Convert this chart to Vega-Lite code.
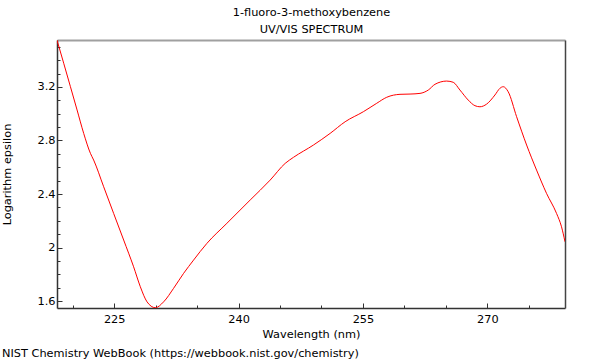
{
  "$schema": "https://vega.github.io/schema/vega-lite/v6.json",
  "width": 508,
  "height": 268,
  "autosize": {"type": "none"},
  "padding": {"left": 57, "top": 40, "right": 35, "bottom": 52},
  "background": "white",
  "title": {
    "text": "NIST Chemistry WebBook (https://webbook.nist.gov/chemistry)",
    "orient": "bottom",
    "anchor": "start",
    "frame": "bounds",
    "font": "DejaVu Sans",
    "fontSize": 11.33,
    "fontWeight": "normal",
    "color": "black",
    "offset": 8
  },
  "config": {
    "view": {"stroke": null},
    "axis": {
      "labelFont": "DejaVu Sans",
      "titleFont": "DejaVu Sans",
      "labelFontSize": 11.33,
      "titleFontSize": 11.33,
      "titleFontWeight": "normal",
      "labelColor": "black",
      "titleColor": "black",
      "grid": false
    }
  },
  "data": {
    "values": [
      {"wavelength": 218.1, "logeps": 3.55},
      {"wavelength": 218.91, "logeps": 3.377},
      {"wavelength": 219.72, "logeps": 3.202},
      {"wavelength": 220.52, "logeps": 3.028},
      {"wavelength": 221.32, "logeps": 2.853},
      {"wavelength": 222.13, "logeps": 2.704},
      {"wavelength": 222.52, "logeps": 2.654},
      {"wavelength": 223.73, "logeps": 2.454},
      {"wavelength": 224.93, "logeps": 2.255},
      {"wavelength": 226.14, "logeps": 2.056},
      {"wavelength": 227.34, "logeps": 1.856},
      {"wavelength": 228.15, "logeps": 1.707},
      {"wavelength": 228.96, "logeps": 1.594},
      {"wavelength": 229.96, "logeps": 1.55},
      {"wavelength": 230.96, "logeps": 1.594},
      {"wavelength": 232.16, "logeps": 1.695},
      {"wavelength": 233.37, "logeps": 1.807},
      {"wavelength": 234.57, "logeps": 1.906},
      {"wavelength": 236.18, "logeps": 2.031},
      {"wavelength": 238.59, "logeps": 2.181},
      {"wavelength": 241.4, "logeps": 2.355},
      {"wavelength": 243.81, "logeps": 2.504},
      {"wavelength": 245.62, "logeps": 2.629},
      {"wavelength": 246.62, "logeps": 2.674},
      {"wavelength": 249.03, "logeps": 2.766},
      {"wavelength": 251.04, "logeps": 2.853},
      {"wavelength": 252.85, "logeps": 2.94},
      {"wavelength": 255.05, "logeps": 3.015},
      {"wavelength": 256.66, "logeps": 3.078},
      {"wavelength": 257.87, "logeps": 3.123},
      {"wavelength": 259.47, "logeps": 3.145},
      {"wavelength": 260.68, "logeps": 3.147},
      {"wavelength": 261.88, "logeps": 3.152},
      {"wavelength": 262.88, "logeps": 3.177},
      {"wavelength": 263.69, "logeps": 3.22},
      {"wavelength": 265.1, "logeps": 3.244},
      {"wavelength": 265.89, "logeps": 3.235},
      {"wavelength": 266.7, "logeps": 3.177},
      {"wavelength": 267.7, "logeps": 3.102},
      {"wavelength": 268.51, "logeps": 3.06},
      {"wavelength": 269.11, "logeps": 3.052},
      {"wavelength": 269.92, "logeps": 3.072},
      {"wavelength": 270.92, "logeps": 3.14},
      {"wavelength": 271.52, "logeps": 3.19},
      {"wavelength": 271.92, "logeps": 3.202},
      {"wavelength": 272.52, "logeps": 3.164},
      {"wavelength": 273.53, "logeps": 2.978},
      {"wavelength": 274.74, "logeps": 2.766},
      {"wavelength": 275.94, "logeps": 2.579},
      {"wavelength": 277.14, "logeps": 2.405},
      {"wavelength": 278.35, "logeps": 2.255},
      {"wavelength": 278.95, "logeps": 2.155},
      {"wavelength": 279.37, "logeps": 2.043}
    ]
  },
  "layer": [
    {
      "mark": {"type": "line", "color": "#ff0000", "strokeWidth": 1, "interpolate": "monotone", "clip": true},
      "encoding": {
        "x": {
          "field": "wavelength",
          "type": "quantitative",
          "scale": {"domain": [218.1, 279.37], "nice": false, "zero": false},
          "axis": {
            "orient": "bottom",
            "values": [220, 225, 230, 235, 240, 245, 250, 255, 260, 265, 270, 275],
            "labelExpr": "(datum.value - 225) % 15 == 0 ? format(datum.value, 'd') : ''",
            "tickSize": {"condition": {"test": "(datum.value - 225) % 15 == 0", "value": -5}, "value": -3},
            "tickColor": "#333333",
            "domainColor": "#333333",
            "domainWidth": 1.5,
            "labelPadding": 10,
            "labelFlush": false,
            "labelOverlap": false,
            "title": "Wavelength (nm)",
            "titlePadding": 2
          }
        },
        "y": {
          "field": "logeps",
          "type": "quantitative",
          "scale": {"domain": [1.548, 3.551], "nice": false, "zero": false},
          "axis": {
            "orient": "left",
            "values": [1.6, 1.7, 1.8, 1.9, 2.0, 2.1, 2.2, 2.3, 2.4, 2.5, 2.6, 2.7, 2.8, 2.9, 3.0, 3.1, 3.2, 3.3, 3.4, 3.5],
            "labelExpr": "round(datum.value * 10) % 4 == 0 ? format(datum.value, '.2~f') : ''",
            "tickSize": {"condition": {"test": "round(datum.value * 10) % 4 == 0", "value": -5}, "value": -3},
            "tickColor": "#333333",
            "domainColor": "#333333",
            "domainWidth": 1.5,
            "labelPadding": 7,
            "labelFlush": false,
            "labelOverlap": false,
            "title": "Logarithm epsilon",
            "titlePadding": 24
          }
        }
      }
    },
    {
      "mark": {"type": "line", "opacity": 0},
      "encoding": {
        "x": {
          "field": "wavelength",
          "type": "quantitative",
          "axis": {
            "orient": "top",
            "labels": false,
            "ticks": false,
            "domainColor": "#a0a0a0",
            "domainWidth": 2,
            "title": ["1-fluoro-3-methoxybenzene", "UV/VIS SPECTRUM"],
            "titlePadding": 5.5,
            "titleLineHeight": 17
          }
        },
        "y": {
          "field": "logeps",
          "type": "quantitative",
          "axis": {
            "orient": "right",
            "labels": false,
            "ticks": false,
            "domainColor": "#444444",
            "domainWidth": 1.5,
            "title": null
          }
        }
      }
    }
  ],
  "resolve": {"axis": {"x": "independent", "y": "independent"}}
}
